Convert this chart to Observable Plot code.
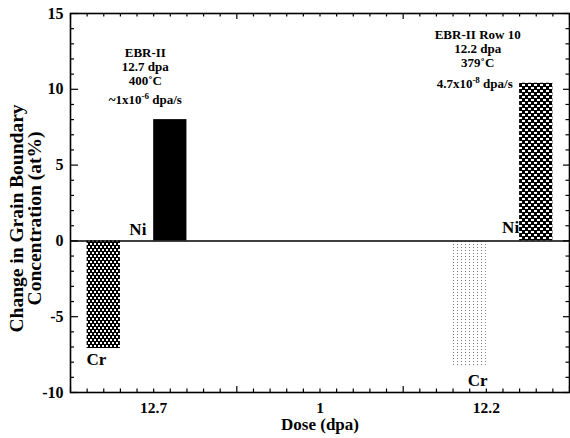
<!DOCTYPE html>
<html><head><meta charset="utf-8">
<script src="https://cdn.jsdelivr.net/npm/d3@7"></script>
<script src="https://cdn.jsdelivr.net/npm/@observablehq/plot@0.6"></script>
<style>body{margin:0;background:#fff} svg{display:block}</style>
</head><body><div id="chart"></div>
<script>
// ---- data ----
const doseLabels = ["12.7", "1", "12.2"];
const doseSlots = [0.5, 1.5, 2.5];
const elements = ["Cr", "Ni", "Cr", "Ni"];
const changes = [-7.1, 8.0, -8.3, 10.4];
const barFrom = [0.1, 0.5, 2.3, 2.7];
const barTo = [0.3, 0.7, 2.5, 2.9];
const yTickValues = [-10, -5, 0, 5, 10, 15];
const noteLeft = "EBR-II\n12.7 dpa\n400˚C";
const rateLeft = "~1x10^-6^ dpa/s";
const noteRight = "EBR-II Row 10\n12.2 dpa\n379˚C";
const rateRight = "4.7x10^-8^ dpa/s";
const xTitle = "Dose (dpa)";
const yTitle = "Change in Grain Boundary\nConcentration (at%)";

// ---- layout ----
const W = 570, H = 438, mL = 70, mR = 1, mT = 13, mB = 46;
const yPerPx = 25 / (H - mT - mB), xPerPx = 3 / (W - mL - mR);
const bars = elements.map((el, i) => ({el, change: changes[i], from: barFrom[i], to: barTo[i]}));
const fills = ["url(#patA)", "#000", "url(#patDots)", "url(#patB)"];
const labelPos = [[0.156, -7.85], [0.405, 0.75], [2.448, -9.22], [2.646, 0.885]];
const xTicks = d3.range(31).map(i => i / 10);
const yTicks = d3.range(-10, 16);
const isMajX = d => Math.abs(d - Math.round(d)) < 1e-9;
const isMajY = d => d % 5 === 0;
const ax = {stroke: "#000", strokeWidth: 1.2};
const font = {fontWeight: "bold"};

const svg = Plot.plot({
  width: W, height: H,
  marginLeft: mL, marginRight: mR, marginTop: mT, marginBottom: mB,
  style: {fontFamily: "'Liberation Serif','Times New Roman',serif", background: "#fff", color: "#000"},
  x: {domain: [0, 3], axis: null},
  y: {domain: [-10, 15], axis: null},
  color: {type: "identity"},
  marks: [
    Plot.rect(bars, {x1: "from", x2: "to", y1: () => 0, y2: "change", fill: (d, i) => fills[i]}),
    Plot.ruleY([0], {stroke: "#000", strokeWidth: 1.5}),
    // bottom ticks
    Plot.ruleX(xTicks, {x: d => d, y1: () => -10, y2: d => -10 + (isMajX(d) ? 6 : 3.5) * yPerPx, ...ax}),
    // top ticks
    Plot.ruleX(xTicks, {x: d => d, y1: () => 15, y2: d => 15 - (isMajX(d) ? 6 : 3.5) * yPerPx, ...ax}),
    // left ticks
    Plot.ruleY(yTicks, {y: d => d, x1: () => 0, x2: d => (isMajY(d) ? 8 : 4) * xPerPx, ...ax}),
    // right ticks
    Plot.ruleY(yTicks, {y: d => d, x1: () => 3, x2: d => 3 - (isMajY(d) ? 6 : 3.5) * xPerPx, ...ax}),
    Plot.frame({stroke: "#000", strokeWidth: 1.6}),
    // tick labels
    Plot.text(yTickValues, {x: () => 0, y: d => d, text: d => String(d), textAnchor: "end", dx: -7, fontSize: 16, ...font}),
    Plot.text(doseLabels, {x: (d, i) => doseSlots[i], y: () => -10, text: d => d, dy: 16, fontSize: 15.5, ...font}),
    // axis titles
    Plot.text([xTitle], {frameAnchor: "bottom", text: d => d, textAnchor: "middle", lineAnchor: "middle", dy: 32, fontSize: 17, ...font}),
    Plot.text([yTitle], {frameAnchor: "left", text: d => d, textAnchor: "middle", lineAnchor: "middle", rotate: -90, dx: -44, dy: 15.5, fontSize: 19.5, lineHeight: 0.88, ...font}),
    // bar labels
    Plot.text(bars, {x: (d, i) => labelPos[i][0], y: (d, i) => labelPos[i][1], text: "el", fontSize: 17, ...font}),
    // annotations
    Plot.text([noteLeft], {x: () => 0.45, y: () => 11.52, text: d => d, fontSize: 13, lineHeight: 1.1, ...font}),
    Plot.text([rateLeft], {x: () => 0.45, y: () => 9.32, text: d => d, fontSize: 13, ...font}),
    Plot.text([noteRight], {x: () => 2.448, y: () => 12.69, text: d => d, fontSize: 13, lineHeight: 1.1, ...font}),
    Plot.text([rateRight], {x: () => 2.43, y: () => 10.38, text: d => d, fontSize: 13, ...font})
  ]
});

// pattern definitions for the bar fills
const defs = d3.select(svg).insert("defs", ":first-child");
const pA = defs.append("pattern").attr("id", "patA").attr("patternUnits", "userSpaceOnUse").attr("width", 4).attr("height", 6);
pA.append("rect").attr("width", 4).attr("height", 6).attr("fill", "#000");
pA.append("rect").attr("x", 0).attr("y", 0).attr("width", 2).attr("height", 2).attr("fill", "#fff");
pA.append("rect").attr("x", 2).attr("y", 3).attr("width", 2).attr("height", 2).attr("fill", "#fff");
const pB = defs.append("pattern").attr("id", "patB").attr("patternUnits", "userSpaceOnUse").attr("width", 6).attr("height", 6);
pB.append("rect").attr("width", 6).attr("height", 6).attr("fill", "#000");
pB.append("rect").attr("x", 0).attr("y", 0).attr("width", 3).attr("height", 2).attr("fill", "#fff");
pB.append("rect").attr("x", 3).attr("y", 3).attr("width", 3).attr("height", 2).attr("fill", "#fff");
const pD = defs.append("pattern").attr("id", "patDots").attr("patternUnits", "userSpaceOnUse").attr("width", 4).attr("height", 3);
pD.append("rect").attr("width", 4).attr("height", 3).attr("fill", "#fff");
pD.append("rect").attr("x", 1).attr("y", 1).attr("width", 1).attr("height", 1).attr("fill", "#777");

// superscripts written as ^...^
svg.querySelectorAll("text").forEach(t => {
  const s = t.textContent;
  if (!s.includes("^")) return;
  const parts = s.split("^");
  t.textContent = "";
  parts.forEach((p, k) => {
    const ts = document.createElementNS("http://www.w3.org/2000/svg", "tspan");
    ts.textContent = p;
    if (k % 2 === 1) { ts.setAttribute("dy", "-5"); ts.setAttribute("font-size", "9"); }
    else if (k > 0) { ts.setAttribute("dy", "5"); }
    t.appendChild(ts);
  });
});

document.getElementById("chart").appendChild(svg);
</script>
</body></html>
